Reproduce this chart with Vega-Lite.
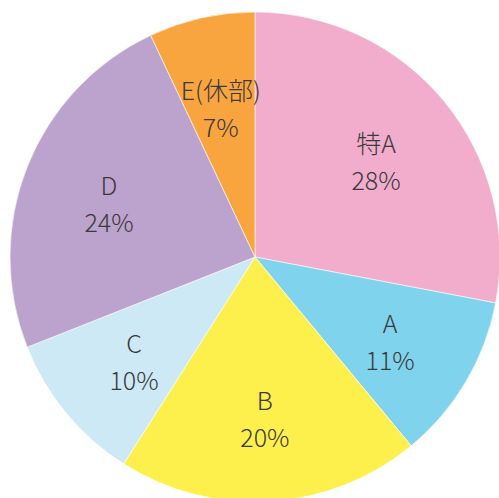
{
  "$schema": "https://vega.github.io/schema/vega-lite/v6.json",
  "autosize": {"type": "none"},
  "padding": 0,
  "width": 510,
  "height": 514,
  "background": "white",
  "data": {"values": [
    {"name": "特A", "pct": 28, "order": 1},
    {"name": "A", "pct": 11, "order": 2},
    {"name": "B", "pct": 20, "order": 3},
    {"name": "C", "pct": 10, "order": 4},
    {"name": "D", "pct": 24, "order": 5},
    {"name": "E(休部)", "pct": 7, "order": 6}
  ]},
  "transform": [{"calculate": "[datum.name, datum.pct + '%']", "as": "label"}],
  "encoding": {
    "theta": {"field": "pct", "type": "quantitative", "stack": true},
    "order": {"field": "order", "type": "quantitative"}
  },
  "layer": [
    {
      "mark": {"type": "arc", "radius": 245, "stroke": "white", "strokeWidth": 0.6},
      "encoding": {
        "color": {
          "field": "name", "type": "nominal", "legend": null,
          "scale": {
            "domain": ["特A", "A", "B", "C", "D", "E(休部)"],
            "range": ["#F2ADCD", "#80D3EC", "#FEF04C", "#CCE9F5", "#BBA3CD", "#F8A540"]
          }
        }
      }
    },
    {
      "mark": {"type": "text", "radius": 157, "dy": -12, "fontSize": 25, "fontWeight": 300, "lineHeight": 37, "font": "Noto Sans CJK JP", "fill": "#3a3a3a", "align": "center", "baseline": "middle"},
      "encoding": {"text": {"field": "label"}}
    }
  ]
}
